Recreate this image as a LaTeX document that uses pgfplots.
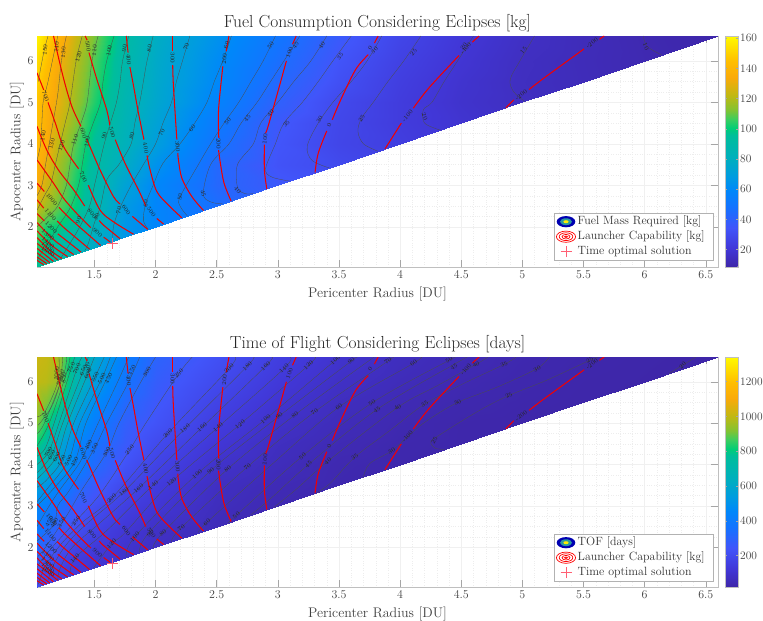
\documentclass[border=0pt]{standalone}
\usepackage{pgfplots}
\pgfplotsset{compat=1.18}
\definecolor{optcross}{RGB}{255,95,115}
\tikzset{lab/.style={font=\fontsize{6}{6.5}\selectfont,inner sep=0pt,text=black!85}}
\pgfplotsset{
 colormap={parulaish}{
  rgb255(0pt)=(62,38,168) rgb255(8pt)=(65,55,215) rgb255(17pt)=(65,85,250) rgb255(26pt)=(20,115,255)
  rgb255(33pt)=(0,135,250) rgb255(39pt)=(0,155,225) rgb255(47pt)=(0,175,190) rgb255(57pt)=(0,190,155)
  rgb255(60pt)=(0,205,120) rgb255(64pt)=(60,205,95) rgb255(68pt)=(130,195,50) rgb255(74pt)=(190,185,20)
  rgb255(82pt)=(250,170,10) rgb255(89pt)=(255,190,0) rgb255(100pt)=(255,250,0)},
 panel/.style={
  scale only axis, width=681bp, anchor=south west,
  xmin=1.03,xmax=6.6,ymin=1.03,ymax=6.6,
  xtick={1.5,2,...,6.5}, ytick={2,3,4,5,6},
  xticklabels={1.5,2,2.5,3,3.5,4,4.5,5,5.5,6,6.5},
  minor x tick num=4, minor y tick num=3,
  grid=both, major grid style={black!6,line width=0.3pt}, minor grid style={black!7,dotted,line width=0.3pt},
  axis line style={black!25,line width=0.7pt},
  tick style={black!35,line width=0.5pt}, tick align=inside, major tick length=7bp, minor tick length=0pt,
  tick label style={font=\fontsize{12}{13}\selectfont,text=black!75},
  /pgf/number format/assume math mode=true,
  xlabel={Pericenter Radius [DU]}, ylabel={Apocenter Radius [DU]},
  label style={font=\fontsize{14}{15}\selectfont,text=black!75},
  xlabel style={yshift=-1bp}, ylabel style={yshift=-3bp},
  title style={font=\fontsize{17.5}{19}\selectfont,text=black!85,yshift=-5.5bp},
  colormap name=parulaish,
  colorbar,
 },
 blk/.style={black!70,line width=0.3pt,smooth,tension=0.55,no markers},
 rd/.style={red!95!black,line width=1.05pt,smooth,tension=0.55,no markers},
}
\newcommand{\cl}[4]{\node[lab,rotate=#4] at (axis cs:#1,#2) {#3};}
\newcommand{\redcontours}{%
\addplot[rd] coordinates {(4.864,4.864)(4.93,5.06)};
\addplot[rd] coordinates {(5.055,5.31)(5.178,5.589)(5.505,6.29)};
\addplot[rd] coordinates {(5.63,6.52)(5.669,6.6)};
\addplot[rd] coordinates {(3.876,3.876)(4.01,4.5)};
\addplot[rd] coordinates {(4.108,4.86)(4.236,5.35)(4.482,6.13)};
\addplot[rd] coordinates {(4.59,6.45)(4.646,6.6)};
\addplot[rd] coordinates {(3.304,3.304)(3.33,3.77)(3.4,4.31)};
\addplot[rd] coordinates {(3.445,4.58)(3.514,5.06)(3.636,5.79)(3.74,6.15)};
\addplot[rd] coordinates {(3.79,6.43)(3.82,6.6)};
\addplot[rd] coordinates {(2.91,2.91)(2.89,3.37)(2.89,3.98)};
\addplot[rd] coordinates {(2.9,4.26)(2.92,4.42)(2.99,5.15)(3.07,6.0)};
\addplot[rd] coordinates {(3.12,6.4)(3.15,6.6)};
\addplot[rd] coordinates {(2.618,2.618)(2.56,3.05)(2.53,3.53)(2.515,3.85)};
\addplot[rd] coordinates {(2.517,4.14)(2.515,4.82)(2.55,5.87)};
\addplot[rd] coordinates {(2.577,6.23)(2.6,6.6)};
\addplot[rd] coordinates {(2.392,2.392)(2.296,2.73)(2.215,3.17)(2.187,3.61)(2.182,3.78)};
\addplot[rd] coordinates {(2.174,4.1)(2.146,5.39)(2.14,5.9)};
\addplot[rd] coordinates {(2.138,6.25)(2.138,6.6)};
\addplot[rd] coordinates {(2.215,2.215)(2.106,2.52)(2.01,2.85)(1.955,3.37)(1.93,3.72)};
\addplot[rd] coordinates {(1.905,4.1)(1.86,4.74)(1.82,5.39)(1.79,5.85)};
\addplot[rd] coordinates {(1.775,6.2)(1.76,6.6)};
\addplot[rd] coordinates {(2.065,2.065)(2.01,2.2)};
\addplot[rd] coordinates {(1.92,2.5)(1.86,2.89)(1.75,3.53)(1.67,4.1)};
\addplot[rd] coordinates {(1.625,4.45)(1.6,4.82)(1.52,5.55)(1.455,6.2)};
\addplot[rd] coordinates {(1.44,6.5)(1.424,6.6)};
\addplot[rd] coordinates {(1.936,1.936)(1.81,2.25)};
\addplot[rd] coordinates {(1.71,2.55)(1.655,2.73)(1.546,3.37)(1.45,4.02)(1.435,4.1)};
\addplot[rd] coordinates {(1.39,4.42)(1.315,4.9)(1.246,5.59)(1.165,6.6)};
\addplot[rd] coordinates {(1.82,1.82)(1.655,2.12)(1.546,2.4)(1.45,3.0)};
\addplot[rd] coordinates {(1.37,3.4)(1.246,3.94)(1.18,4.5)(1.12,5)};
\addplot[rd] coordinates {(1.085,5.3)(1.03,5.71)};
\addplot[rd] coordinates {(1.71,1.71)(1.574,2.04)(1.54,2.15)};
\addplot[rd] coordinates {(1.42,2.5)(1.33,2.89)(1.205,3.37)(1.11,3.85)(1.03,4.42)};
\addplot[rd] coordinates {(1.63,1.63)(1.575,1.75)};
\addplot[rd] coordinates {(1.47,1.98)(1.355,2.32)(1.246,2.69)(1.165,3.05)(1.03,3.61)};
\addplot[rd] coordinates {(1.55,1.55)(1.3,2.2)(1.21,2.47)};
\addplot[rd] coordinates {(1.09,2.85)(1.03,3.05)};
\addplot[rd] coordinates {(1.46,1.46)(1.25,1.98)(1.195,2.14)};
\addplot[rd] coordinates {(1.085,2.45)(1.03,2.65)};
\addplot[rd] coordinates {(1.39,1.39)(1.2,1.83)};
\addplot[rd] coordinates {(1.09,2.14)(1.03,2.32)};
\addplot[rd] coordinates {(1.33,1.33)(1.17,1.68)(1.03,2.1)};
\addplot[rd] coordinates {(1.28,1.28)(1.15,1.55)(1.03,1.9)};
\addplot[rd] coordinates {(1.235,1.235)(1.13,1.45)(1.03,1.74)};
\addplot[rd] coordinates {(1.2,1.2)(1.03,1.6)};
\addplot[rd] coordinates {(1.165,1.165)(1.03,1.48)};
\addplot[rd] coordinates {(1.135,1.135)(1.03,1.37)};
\addplot[rd] coordinates {(1.11,1.11)(1.03,1.27)};
\addplot[rd] coordinates {(1.085,1.085)(1.03,1.19)};
\addplot[optcross,line width=0.7pt,no markers] coordinates {(1.605,1.6)(1.695,1.6)};
\addplot[optcross,line width=0.7pt,no markers] coordinates {(1.65,1.47)(1.65,1.73)};
\cl{5.57}{6.43}{-200}{38}\cl{4.99}{5.18}{-200}{38}\cl{4.537}{6.3}{-100}{50}\cl{4.06}{4.68}{-100}{50}
\cl{3.754}{6.3}{0}{60}\cl{3.42}{4.45}{0}{70}\cl{3.095}{6.2}{100}{70}\cl{2.895}{4.12}{100}{85}
\cl{2.563}{6.05}{200}{85}\cl{2.515}{4.0}{200}{-90}\cl{2.138}{6.07}{300}{-90}\cl{2.18}{3.94}{300}{-85}
\cl{1.78}{6.03}{400}{-85}\cl{1.92}{3.9}{400}{-80}\cl{1.645}{4.27}{500}{-75}\cl{1.447}{6.35}{500}{-80}
\cl{1.965}{2.35}{500}{-55}\cl{1.76}{2.4}{600}{-55}\cl{1.41}{4.26}{600}{-75}\cl{1.41}{3.2}{700}{-65}
\cl{1.1}{5.15}{700}{-70}\cl{1.48}{2.32}{800}{-50}\cl{1.525}{1.86}{900}{-40}\cl{1.15}{2.66}{1000}{-50}
\cl{1.14}{2.29}{1100}{-50}\cl{1.145}{1.98}{1200}{-45}\cl{1.12}{1.8}{1300}{-40}\cl{1.12}{1.62}{1400}{-40}
\cl{1.12}{1.5}{1500}{-35}\cl{1.12}{1.4}{1600}{-30}%
}
\newcommand{\legendbox}[3]{%
 \fill[white,draw=black!30,line width=0.5pt] (554bp,#1bp) rectangle (713bp,#1bp+47.5bp);
 \fill[fill=blue!70!black] (566bp,#1bp+39bp) ellipse (9.3bp and 5.6bp);
 \fill[fill=cyan!65!green!80!black] (566bp,#1bp+39bp) ellipse (6bp and 3.4bp);
 \fill[yellow!95!orange] (566bp,#1bp+39bp) ellipse (2.6bp and 1.5bp);
 \foreach \a/\b in {9.6/5.6,6.8/3.9,4/2.3,1.6/0.8}{\draw[red,line width=0.7pt] (566bp,#1bp+24bp) ellipse (\a bp and \b bp);}
 \draw[optcross,line width=0.6pt] (560.5bp,#1bp+9bp) -- (571.5bp,#1bp+9bp) (566bp,#1bp+3.5bp) -- (566bp,#1bp+14.5bp);
 \node[anchor=west,inner sep=0pt,font=\fontsize{12}{13}\selectfont,text=black!80] at (577.5bp,#1bp+39bp) {#2};
 \node[anchor=west,inner sep=0pt,font=\fontsize{12}{13}\selectfont,text=black!80] at (577.5bp,#1bp+24bp) {Launcher Capability [kg]};
 \node[anchor=west,inner sep=0pt,font=\fontsize{12}{13}\selectfont,text=black!80] at (577.5bp,#1bp+9bp) {#3};
}
\begin{document}
\begin{tikzpicture}
\path[use as bounding box] (0,0) rectangle (763bp,621bp);
% ---------- top panel ----------
\begin{axis}[panel, at={(37bp,354bp)}, height=231bp,
 title={Fuel Consumption Considering Eclipses [kg]},
 point meta min=8.5, point meta max=161.5,
 colorbar style={at={(1.0103,1)},anchor=north west,width=12.7bp,
   ytick={20,40,...,160},tick align=inside,major tick length=2bp,
   axis line style={black!25},
   yticklabel style={font=\fontsize{11.5}{12.5}\selectfont,text=black!75,xshift=-1bp},
   /pgf/number format/assume math mode=true},
]
\addplot[surf,shader=interp,mesh/rows=16,mesh/cols=16,point meta=explicit] coordinates {
(1.03,1.03)[96](1.1,1.1)[95](1.2,1.2)[91](1.35,1.35)[85](1.5,1.5)[77](1.75,1.75)[66](2,2)[58](2.5,2.5)[46](3,3)[36](3.5,3.5)[29.5](4,4)[24](4.5,4.5)[19](5,5)[15](5.5,5.5)[13](6,6)[11](6.6,6.6)[9]
(1.03,1.1)[97](1.1,1.1)[95](1.2,1.2)[91](1.35,1.35)[85](1.5,1.5)[77](1.75,1.75)[66](2,2)[58](2.5,2.5)[46](3,3)[36](3.5,3.5)[29.5](4,4)[24](4.5,4.5)[19](5,5)[15](5.5,5.5)[13](6,6)[11](6.6,6.6)[9]
(1.03,1.2)[98](1.1,1.2)[95](1.2,1.2)[91](1.35,1.35)[85](1.5,1.5)[77](1.75,1.75)[66](2,2)[58](2.5,2.5)[46](3,3)[36](3.5,3.5)[29.5](4,4)[24](4.5,4.5)[19](5,5)[15](5.5,5.5)[13](6,6)[11](6.6,6.6)[9]
(1.03,1.35)[100](1.1,1.35)[96](1.2,1.35)[91](1.35,1.35)[85](1.5,1.5)[77](1.75,1.75)[66](2,2)[58](2.5,2.5)[46](3,3)[36](3.5,3.5)[29.5](4,4)[24](4.5,4.5)[19](5,5)[15](5.5,5.5)[13](6,6)[11](6.6,6.6)[9]
(1.03,1.5)[102](1.1,1.5)[98](1.2,1.5)[92](1.35,1.5)[84](1.5,1.5)[77](1.75,1.75)[66](2,2)[58](2.5,2.5)[46](3,3)[36](3.5,3.5)[29.5](4,4)[24](4.5,4.5)[19](5,5)[15](5.5,5.5)[13](6,6)[11](6.6,6.6)[9]
(1.03,1.75)[106](1.1,1.75)[101](1.2,1.75)[96](1.35,1.75)[87](1.5,1.75)[79](1.75,1.75)[66](2,2)[58](2.5,2.5)[46](3,3)[36](3.5,3.5)[29.5](4,4)[24](4.5,4.5)[19](5,5)[15](5.5,5.5)[13](6,6)[11](6.6,6.6)[9]
(1.03,2)[110](1.1,2)[103](1.2,2)[100](1.35,2)[92](1.5,2)[82](1.75,2)[65.5](2,2)[58](2.5,2.5)[46](3,3)[36](3.5,3.5)[29.5](4,4)[24](4.5,4.5)[19](5,5)[15](5.5,5.5)[13](6,6)[11](6.6,6.6)[9]
(1.03,2.5)[124](1.1,2.5)[117](1.2,2.5)[110](1.35,2.5)[100](1.5,2.5)[88](1.75,2.5)[68](2,2.5)[58](2.5,2.5)[46](3,3)[36](3.5,3.5)[29.5](4,4)[24](4.5,4.5)[19](5,5)[15](5.5,5.5)[13](6,6)[11](6.6,6.6)[9]
(1.03,3)[135](1.1,3)[125](1.2,3)[115](1.35,3)[102](1.5,3)[90](1.75,3)[72.5](2,3)[59](2.5,3)[43](3,3)[36](3.5,3.5)[29.5](4,4)[24](4.5,4.5)[19](5,5)[15](5.5,5.5)[13](6,6)[11](6.6,6.6)[9]
(1.03,3.5)[138](1.1,3.5)[130](1.2,3.5)[118](1.35,3.5)[105](1.5,3.5)[93](1.75,3.5)[78](2,3.5)[64](2.5,3.5)[43.5](3,3.5)[33.5](3.5,3.5)[29.5](4,4)[24](4.5,4.5)[19](5,5)[15](5.5,5.5)[13](6,6)[11](6.6,6.6)[9]
(1.03,4)[142](1.1,4)[135](1.2,4)[122](1.35,4)[108](1.5,4)[95](1.75,4)[82](2,4)[70](2.5,4)[48.5](3,4)[34.5](3.5,4)[27.5](4,4)[24](4.5,4.5)[19](5,5)[15](5.5,5.5)[13](6,6)[11](6.6,6.6)[9]
(1.03,4.5)[144](1.1,4.5)[137](1.2,4.5)[126](1.35,4.5)[113](1.5,4.5)[99](1.75,4.5)[84](2,4.5)[72.5](2.5,4.5)[52](3,4.5)[36](3.5,4.5)[28](4,4.5)[23](4.5,4.5)[19](5,5)[15](5.5,5.5)[13](6,6)[11](6.6,6.6)[9]
(1.03,5)[146](1.1,5)[138](1.2,5)[130](1.35,5)[116](1.5,5)[104](1.75,5)[86](2,5)[75](2.5,5)[57](3,5)[40](3.5,5)[29](4,5)[23](4.5,5)[18](5,5)[15](5.5,5.5)[13](6,6)[11](6.6,6.6)[9]
(1.03,5.5)[150](1.1,5.5)[142](1.2,5.5)[131](1.35,5.5)[118](1.5,5.5)[106](1.75,5.5)[88](2,5.5)[76](2.5,5.5)[59.5](3,5.5)[43.5](3.5,5.5)[32](4,5.5)[24](4.5,5.5)[18.6](5,5.5)[14.7](5.5,5.5)[13](6,6)[11](6.6,6.6)[9]
(1.03,6)[153](1.1,6)[146](1.2,6)[134](1.35,6)[120](1.5,6)[108](1.75,6)[89](2,6)[77](2.5,6)[61](3,6)[46.5](3.5,6)[34](4,6)[25.5](4.5,6)[19.7](5,6)[15](5.5,6)[12.8](6,6)[11](6.6,6.6)[9]
(1.03,6.6)[160](1.1,6.6)[152](1.2,6.6)[140](1.35,6.6)[124](1.5,6.6)[112](1.75,6.6)[92](2,6.6)[79](2.5,6.6)[64](3,6.6)[50](3.5,6.6)[37](4,6.6)[27.5](4.5,6.6)[21](5,6.6)[16](5.5,6.6)[13](6,6.6)[10.7](6.6,6.6)[9]
};
\addplot[blk] coordinates {(1.12,6.6)(1.085,6.2)(1.04,5.5)};
\addplot[blk] coordinates {(1.2,6.6)(1.17,6.2)(1.12,5.5)(1.08,5)(1.07,4.5)(1.06,4)(1.03,3.6)};
\addplot[blk] coordinates {(1.27,6.6)(1.23,6)(1.2,5.2)(1.16,4.5)(1.13,4)(1.1,3.5)(1.07,3)(1.03,2.75)};
\addplot[blk] coordinates {(1.4,6.6)(1.35,6)(1.3,5)(1.26,4.5)(1.22,4)(1.18,3.5)(1.14,3)(1.1,2.8)(1.03,2.4)};
\addplot[blk] coordinates {(1.53,6.6)(1.48,6)(1.44,5)(1.39,4.5)(1.33,4)(1.3,3.5)(1.27,3)(1.2,2.5)(1.12,2.25)(1.03,2)};
\addplot[blk] coordinates {(1.66,6.6)(1.6,6)(1.57,5.5)(1.55,5)(1.49,4.5)(1.43,4)(1.4,3.5)(1.37,3)(1.3,2.45)(1.2,2)(1.12,1.6)(1.05,1.3)(1.03,1.2)};
\addplot[blk] coordinates {(1.78,6.6)(1.73,6)(1.71,5.5)(1.68,5)(1.63,4.5)(1.58,4)(1.54,3.5)(1.5,3)(1.46,2.5)(1.38,2)(1.3,1.6)(1.22,1.22)};
\addplot[blk] coordinates {(1.98,6.6)(1.93,6)(1.9,5.5)(1.87,5)(1.83,4.5)(1.8,4)(1.7,3.5)(1.6,3.13)(1.55,2.5)(1.5,2.1)(1.45,1.6)(1.42,1.42)};
\addplot[blk] coordinates {(2.28,6.6)(2.22,6)(2.17,5.5)(2.13,5)(2.06,4.5)(2,4)(1.9,3.5)(1.8,3)(1.7,2.4)(1.655,2)(1.65,1.65)};
\addplot[blk] coordinates {(2.62,6.6)(2.55,6)(2.48,5.5)(2.42,5)(2.32,4.5)(2.2,4)(2.06,3.53)(1.98,3)(1.92,2.56)(1.9,2.16)(1.94,1.94)};
\addplot[blk] coordinates {(2.98,6.6)(2.88,6)(2.78,5.5)(2.68,5)(2.56,4.5)(2.45,4)(2.35,3.5)(2.2,2.72)(2.2,2.5)(2.26,2.26)};
\addplot[blk] coordinates {(3.18,6.6)(3.05,6)(2.94,5.5)(2.83,5)(2.7,4.5)(2.6,4)(2.45,3.5)(2.39,2.8)(2.45,2.6)(2.55,2.55)};
\addplot[blk] coordinates {(3.4,6.6)(3.27,6)(3.13,5.5)(3,5)(2.86,4.5)(2.8,4)(2.67,3.5)(2.67,2.95)(2.73,2.8)(2.8,2.8)};
\addplot[blk] coordinates {(3.6,6.6)(3.45,6)(3.33,5.5)(3.2,5)(3.05,4.5)(2.98,4)(2.9,3.4)(2.95,3.2)(3.1,3.1)};
\addplot[blk] coordinates {(3.85,6.6)(3.73,6)(3.6,5.5)(3.45,5)(3.33,4.5)(3.24,3.94)(3.28,3.6)(3.42,3.42)};
\addplot[blk] coordinates {(4.17,6.6)(4.03,6)(3.9,5.5)(3.78,5)(3.685,4.62)(3.655,4.3)(3.7,4)(3.82,3.82)};
\addplot[blk] coordinates {(4.6,6.6)(4.47,6)(4.36,5.5)(4.26,5)(4.19,4.82)(4.2,4.5)(4.33,4.33)};
\addplot[blk] coordinates {(5.1,6.6)(4.98,6)(4.9,5.55)(4.93,5.25)(5.02,5.02)};
\addplot[blk] coordinates {(5.99,6.6)(6.02,6.35)(6.14,6.14)};
\redcontours
\cl{1.096}{6.27}{150}{85}\cl{1.19}{6.33}{140}{85}\cl{1.246}{6.2}{130}{85}\cl{1.369}{6.1}{120}{75}\cl{1.5}{6.25}{110}{85}
\cl{1.62}{6.25}{100}{80}\cl{1.745}{6.3}{90}{80}\cl{1.95}{6.3}{80}{80}\cl{2.25}{6.35}{70}{70}\cl{2.58}{6.38}{60}{70}
\cl{2.94}{6.38}{50}{55}\cl{3.145}{6.38}{45}{55}\cl{3.36}{6.38}{40}{55}\cl{3.51}{6.1}{35}{50}\cl{3.79}{6.25}{30}{45}
\cl{4.11}{6.2}{25}{50}\cl{4.52}{6.35}{20}{50}\cl{5.01}{6.25}{15}{50}\cl{6.01}{6.35}{10}{-70}
\cl{1.08}{4.2}{140}{80}\cl{1.15}{4.0}{130}{75}\cl{1.23}{3.95}{120}{70}\cl{1.34}{4.1}{110}{70}\cl{1.44}{4.05}{100}{80}
\cl{1.58}{4.2}{90}{75}\cl{1.805}{4.2}{80}{75}\cl{2.05}{4.28}{70}{60}\cl{2.3}{4.38}{60}{50}\cl{2.59}{4.54}{50}{50}
\cl{2.75}{4.62}{45}{50}\cl{2.94}{4.74}{40}{50}\cl{3.07}{4.48}{35}{50}\cl{3.34}{4.58}{30}{60}\cl{3.685}{4.62}{25}{60}
\cl{4.2}{4.66}{20}{-70}\cl{2.2}{2.72}{50}{85}\cl{2.39}{2.8}{45}{-80}\cl{2.67}{2.89}{40}{-50}\cl{1.92}{2.56}{60}{85}
\cl{1.7}{2.4}{70}{80}\cl{1.52}{2.24}{80}{70}\cl{1.37}{2.16}{90}{70}
\end{axis}
% ---------- bottom panel ----------
\begin{axis}[panel, at={(37bp,33.7bp)}, height=230.3bp,
 title={Time of Flight Considering Eclipses [days]},
 point meta min=18, point meta max=1342,
 colorbar style={at={(1.0103,1)},anchor=north west,width=12.7bp,
   ytick={200,400,...,1200},tick align=inside,major tick length=2bp,
   axis line style={black!25},
   yticklabel style={font=\fontsize{11.5}{12.5}\selectfont,text=black!75,xshift=-1bp},
   /pgf/number format/assume math mode=true,
   /pgf/number format/1000 sep={}},
]
\addplot[surf,shader=interp,mesh/rows=16,mesh/cols=16,point meta=explicit] coordinates {
(1.03,1.03)[210](1.1,1.1)[190](1.2,1.2)[165](1.35,1.35)[135](1.5,1.5)[118](1.75,1.75)[100](2,2)[79](2.5,2.5)[54](3,3)[40](3.5,3.5)[32.5](4,4)[27.5](4.5,4.5)[24.8](5,5)[23](5.5,5.5)[22](6,6)[20.5](6.6,6.6)[18]
(1.03,1.1)[210](1.1,1.1)[190](1.2,1.2)[165](1.35,1.35)[135](1.5,1.5)[118](1.75,1.75)[100](2,2)[79](2.5,2.5)[54](3,3)[40](3.5,3.5)[32.5](4,4)[27.5](4.5,4.5)[24.8](5,5)[23](5.5,5.5)[22](6,6)[20.5](6.6,6.6)[18]
(1.03,1.2)[220](1.1,1.2)[190](1.2,1.2)[165](1.35,1.35)[135](1.5,1.5)[118](1.75,1.75)[100](2,2)[79](2.5,2.5)[54](3,3)[40](3.5,3.5)[32.5](4,4)[27.5](4.5,4.5)[24.8](5,5)[23](5.5,5.5)[22](6,6)[20.5](6.6,6.6)[18]
(1.03,1.35)[230](1.1,1.35)[195](1.2,1.35)[160](1.35,1.35)[135](1.5,1.5)[118](1.75,1.75)[100](2,2)[79](2.5,2.5)[54](3,3)[40](3.5,3.5)[32.5](4,4)[27.5](4.5,4.5)[24.8](5,5)[23](5.5,5.5)[22](6,6)[20.5](6.6,6.6)[18]
(1.03,1.5)[250](1.1,1.5)[210](1.2,1.5)[170](1.35,1.5)[135](1.5,1.5)[118](1.75,1.75)[100](2,2)[79](2.5,2.5)[54](3,3)[40](3.5,3.5)[32.5](4,4)[27.5](4.5,4.5)[24.8](5,5)[23](5.5,5.5)[22](6,6)[20.5](6.6,6.6)[18]
(1.03,1.75)[300](1.1,1.75)[245](1.2,1.75)[190](1.35,1.75)[145](1.5,1.75)[118](1.75,1.75)[100](2,2)[79](2.5,2.5)[54](3,3)[40](3.5,3.5)[32.5](4,4)[27.5](4.5,4.5)[24.8](5,5)[23](5.5,5.5)[22](6,6)[20.5](6.6,6.6)[18]
(1.03,2)[330](1.1,2)[280](1.2,2)[225](1.35,2)[170](1.5,2)[135](1.75,2)[101](2,2)[79](2.5,2.5)[54](3,3)[40](3.5,3.5)[32.5](4,4)[27.5](4.5,4.5)[24.8](5,5)[23](5.5,5.5)[22](6,6)[20.5](6.6,6.6)[18]
(1.03,2.5)[400](1.1,2.5)[345](1.2,2.5)[290](1.35,2.5)[220](1.5,2.5)[175](1.75,2.5)[125](2,2.5)[88](2.5,2.5)[54](3,3)[40](3.5,3.5)[32.5](4,4)[27.5](4.5,4.5)[24.8](5,5)[23](5.5,5.5)[22](6,6)[20.5](6.6,6.6)[18]
(1.03,3)[450](1.1,3)[410](1.2,3)[350](1.35,3)[265](1.5,3)[215](1.75,3)[155](2,3)[118](2.5,3)[65](3,3)[40](3.5,3.5)[32.5](4,4)[27.5](4.5,4.5)[24.8](5,5)[23](5.5,5.5)[22](6,6)[20.5](6.6,6.6)[18]
(1.03,3.5)[560](1.1,3.5)[510](1.2,3.5)[440](1.35,3.5)[340](1.5,3.5)[270](1.75,3.5)[190](2,3.5)[140](2.5,3.5)[76](3,3.5)[48](3.5,3.5)[32.5](4,4)[27.5](4.5,4.5)[24.8](5,5)[23](5.5,5.5)[22](6,6)[20.5](6.6,6.6)[18]
(1.03,4)[700](1.1,4)[650](1.2,4)[570](1.35,4)[430](1.5,4)[330](1.75,4)[230](2,4)[170](2.5,4)[95](3,4)[60](3.5,4)[36](4,4)[27.5](4.5,4.5)[24.8](5,5)[23](5.5,5.5)[22](6,6)[20.5](6.6,6.6)[18]
(1.03,4.5)[810](1.1,4.5)[750](1.2,4.5)[600](1.35,4.5)[450](1.5,4.5)[360](1.75,4.5)[265](2,4.5)[200](2.5,4.5)[120](3,4.5)[72](3.5,4.5)[45.5](4,4.5)[31](4.5,4.5)[24.8](5,5)[23](5.5,5.5)[22](6,6)[20.5](6.6,6.6)[18]
(1.03,5)[920](1.1,5)[830](1.2,5)[715](1.35,5)[530](1.5,5)[415](1.75,5)[285](2,5)[235](2.5,5)[148](3,5)[90](3.5,5)[57](4,5)[36.5](4.5,5)[25.5](5,5)[23](5.5,5.5)[22](6,6)[20.5](6.6,6.6)[18]
(1.03,5.5)[975](1.1,5.5)[920](1.2,5.5)[840](1.35,5.5)[610](1.5,5.5)[480](1.75,5.5)[325](2,5.5)[255](2.5,5.5)[172](3,5.5)[110](3.5,5.5)[70](4,5.5)[46](4.5,5.5)[32](5,5.5)[26](5.5,5.5)[22](6,6)[20.5](6.6,6.6)[18]
(1.03,6)[1000](1.1,6)[990](1.2,6)[950](1.35,6)[690](1.5,6)[545](1.75,6)[365](2,6)[275](2.5,6)[197](3,6)[130](3.5,6)[84](4,6)[57](4.5,6)[39](5,6)[29](5.5,6)[23.5](6,6)[20.5](6.6,6.6)[18]
(1.03,6.6)[1020](1.1,6.6)[1010](1.2,6.6)[960](1.35,6.6)[740](1.5,6.6)[600](1.75,6.6)[410](2,6.6)[300](2.5,6.6)[225](3,6.6)[153](3.5,6.6)[102](4,6.6)[68](4.5,6.6)[48](5,6.6)[34](5.5,6.6)[26.5](6,6.6)[22.5](6.6,6.6)[18]
};
\addplot[blk] coordinates {(6.42,6.6)(6.31,6.4)(6.2,6.2)};
\addplot[blk] coordinates {(5.62,6.6)(5.55,6.52)(5.2,6.04)(4.89,5.67)(4.65,5.31)(4.32,4.71)(4.25,4.55)(4.29,4.39)(4.37,4.37)};
\addplot[blk] coordinates {(5.22,6.6)(5.12,6.32)(4.8,5.88)(4.47,5.5)(4.22,5.06)(4.09,4.75)(3.93,4.33)(3.75,4.02)(3.7,3.7)};
\addplot[blk] coordinates {(4.95,6.6)(4.85,6.42)(4.52,5.96)(4.2,5.46)(3.92,4.83)(3.63,4.18)(3.43,3.55)(3.32,3.32)};
\addplot[blk] coordinates {(4.72,6.6)(4.62,6.42)(4.3,5.9)(3.98,5.38)(3.41,4.08)(3.15,3.4)(2.97,2.97)};
\addplot[blk] coordinates {(4.55,6.6)(4.44,6.42)(3.81,5.33)(3.25,4.0)(2.95,3.2)(2.78,2.78)};
\addplot[blk] coordinates {(4.47,6.6)(4.4,6.52)(3.77,5.49)(3.2,4.2)(2.66,2.77)(2.6,2.6)};
\addplot[blk] coordinates {(4.17,6.6)(4.11,6.45)(3.5,5.39)(2.95,4)(2.42,2.6)(2.35,2.35)};
\addplot[blk] coordinates {(3.95,6.6)(3.9,6.5)(3.3,5.27)(2.75,3.94)(2.21,2.47)(2.13,2.13)};
\addplot[blk] coordinates {(3.8,6.6)(3.74,6.5)(3.14,5.2)(2.59,3.89)(2.06,2.35)(1.98,1.98)};
\addplot[blk] coordinates {(3.65,6.6)(3.6,6.5)(3.01,5.17)(2.45,3.85)(1.94,2.33)(1.87,1.87)};
\addplot[blk] coordinates {(3.52,6.6)(3.47,6.52)(2.9,5.1)(2.34,3.77)(1.83,2.25)(1.76,1.76)};
\addplot[blk] coordinates {(3.3,6.6)(3.25,6.4)(2.69,4.97)(2.13,3.58)(1.75,2.35)(1.64,2.08)(1.49,1.49)};
\addplot[blk] coordinates {(3.1,6.6)(3.05,6.32)(2.51,4.9)(1.98,3.5)(1.6,2.4)(1.34,1.73)(1.3,1.3)};
\addplot[blk] coordinates {(2.95,6.6)(2.9,6.38)(2.38,4.9)(1.86,3.42)(1.55,2.6)(1.32,2)(1.22,1.5)(1.2,1.2)};
\addplot[blk] coordinates {(2.8,6.6)(2.75,6.38)(2.24,4.87)(1.74,3.34)(1.45,2.6)(1.28,2.1)(1.17,1.6)(1.12,1.2)};
\addplot[blk] coordinates {(2.65,6.6)(2.6,6.32)(2.1,4.75)(1.64,3.18)(1.4,2.6)(1.22,2.05)(1.1,1.55)(1.04,1.1)};
\addplot[blk] coordinates {(2.3,6.6)(2.19,6.2)(1.92,5)(1.787,4.35)(1.55,3.3)(1.35,2.64)(1.17,2.05)(1.07,1.7)(1.03,1.5)};
\addplot[blk] coordinates {(2,6.6)(1.88,6)(1.7,5)(1.6,4.3)(1.4,3.4)(1.27,2.75)(1.1,2)(1.03,1.75)};
\addplot[blk] coordinates {(1.87,6.6)(1.78,6)(1.6,5)(1.5,4.39)(1.3,3.4)(1.2,3)(1.17,2.55)(1.03,2.15)};
\addplot[blk] coordinates {(1.78,6.6)(1.69,6)(1.53,5)(1.45,4.47)(1.37,4)(1.22,3.4)(1.13,3)(1.03,2.5)};
\addplot[blk] coordinates {(1.68,6.6)(1.6,6.08)(1.43,5)(1.337,4.06)(1.16,3.4)(1.03,3)};
\addplot[blk] coordinates {(1.63,6.6)(1.56,6.08)(1.38,5)(1.288,4.1)(1.11,3.4)(1.03,3.1)};
\addplot[blk] coordinates {(1.58,6.6)(1.506,6.12)(1.33,5)(1.233,4.1)(1.1,3.6)(1.03,3.45)};
\addplot[blk] coordinates {(1.5,6.6)(1.446,6.2)(1.28,5)(1.19,4.18)(1.03,3.65)};
\addplot[blk] coordinates {(1.45,6.6)(1.41,6.28)(1.24,5)(1.15,4.23)(1.03,3.8)};
\addplot[blk] coordinates {(1.4,6.6)(1.356,6.32)(1.21,5)(1.124,4.3)(1.03,4)};
\addplot[blk] coordinates {(1.34,6.6)(1.31,6.34)(1.17,5)(1.097,4.39)(1.03,4.2)};
\addplot[blk] coordinates {(1.3,6.6)(1.27,6.2)(1.13,5)(1.03,4.45)};
\addplot[blk] coordinates {(1.27,6.6)(1.25,6.2)(1.09,5)(1.03,4.75)};
\addplot[blk] coordinates {(1.24,6.6)(1.22,6)(1.15,5.4)(1.04,4.95)};
\addplot[blk] coordinates {(1.21,6.6)(1.2,6)(1.1,5.3)(1.03,5.15)};
\redcontours
\cl{1.31}{6.34}{750}{65}\cl{1.356}{6.32}{700}{65}\cl{1.41}{6.28}{650}{65}\cl{1.446}{6.2}{600}{65}\cl{1.506}{6.12}{550}{65}
\cl{1.56}{6.08}{500}{65}\cl{1.615}{6.08}{450}{65}\cl{1.806}{6.28}{350}{65}\cl{1.929}{6.24}{300}{60}\cl{2.19}{6.2}{250}{50}
\cl{2.6}{6.32}{200}{45}\cl{2.75}{6.38}{180}{45}\cl{2.9}{6.38}{160}{45}\cl{3.05}{6.32}{140}{45}\cl{3.25}{6.4}{120}{45}
\cl{3.47}{6.52}{100}{40}\cl{3.6}{6.5}{90}{40}\cl{3.9}{6.5}{70}{35}\cl{4.11}{6.45}{60}{35}\cl{4.4}{6.52}{50}{35}
\cl{4.44}{6.36}{45}{35}\cl{4.62}{6.42}{40}{30}\cl{4.85}{6.42}{35}{30}\cl{5.12}{6.32}{30}{30}\cl{5.55}{6.52}{25}{30}\cl{6.31}{6.4}{20}{45}
\cl{1.45}{4.47}{400}{65}\cl{1.5}{4.39}{350}{65}\cl{1.6}{4.3}{300}{65}\cl{1.787}{4.35}{250}{50}\cl{2.1}{4.75}{200}{45}
\cl{2.24}{4.87}{180}{40}\cl{2.38}{4.9}{160}{40}\cl{2.51}{4.9}{140}{40}\cl{2.69}{4.97}{120}{40}\cl{2.9}{5.1}{100}{40}
\cl{3.01}{5.17}{90}{40}\cl{3.14}{5.2}{80}{40}\cl{3.3}{5.27}{70}{40}\cl{3.5}{5.39}{60}{40}\cl{3.77}{5.49}{50}{35}
\cl{3.81}{5.33}{45}{35}\cl{3.98}{5.38}{40}{30}\cl{4.2}{5.46}{35}{30}\cl{4.47}{5.5}{30}{30}\cl{4.89}{5.67}{25}{30}\cl{4.28}{4.59}{25}{60}
\cl{1.64}{3.18}{200}{45}\cl{1.74}{3.34}{180}{40}\cl{1.86}{3.42}{160}{40}\cl{1.98}{3.5}{140}{40}\cl{2.13}{3.58}{120}{40}
\cl{2.34}{3.77}{100}{40}\cl{2.45}{3.85}{90}{40}\cl{2.59}{3.89}{80}{40}\cl{2.75}{3.94}{70}{40}
\cl{3.2}{4.2}{50}{40}\cl{3.25}{4.0}{45}{40}\cl{3.41}{4.08}{40}{40}\cl{3.63}{4.18}{35}{35}\cl{3.93}{4.33}{30}{30}
\cl{1.64}{2.08}{120}{45}\cl{1.83}{2.25}{100}{45}\cl{1.956}{2.33}{90}{45}\cl{2.06}{2.35}{80}{40}\cl{2.21}{2.47}{70}{40}\cl{2.42}{2.6}{60}{40}\cl{2.66}{2.77}{50}{40}
\cl{1.34}{1.73}{140}{50}\cl{1.348}{2.64}{250}{55}\cl{1.337}{4.06}{450}{65}\cl{1.288}{4.1}{500}{65}\cl{1.233}{4.1}{550}{65}\cl{1.19}{4.18}{600}{65}\cl{1.15}{4.23}{650}{65}\cl{1.124}{4.3}{700}{65}
\cl{1.19}{6.2}{1000}{85}\cl{1.21}{6.05}{950}{85}\cl{1.23}{6.15}{900}{85}\cl{1.25}{6.1}{850}{85}
\cl{1.23}{2.6}{350}{60}\cl{1.17}{2.58}{400}{60}\cl{1.13}{2.62}{450}{60}
\end{axis}
\legendbox{360.3}{Fuel Mass Required [kg]}{Time optimal solution}
\legendbox{39.3}{TOF [days]}{Time optimal solution}
\end{tikzpicture}
\end{document}
